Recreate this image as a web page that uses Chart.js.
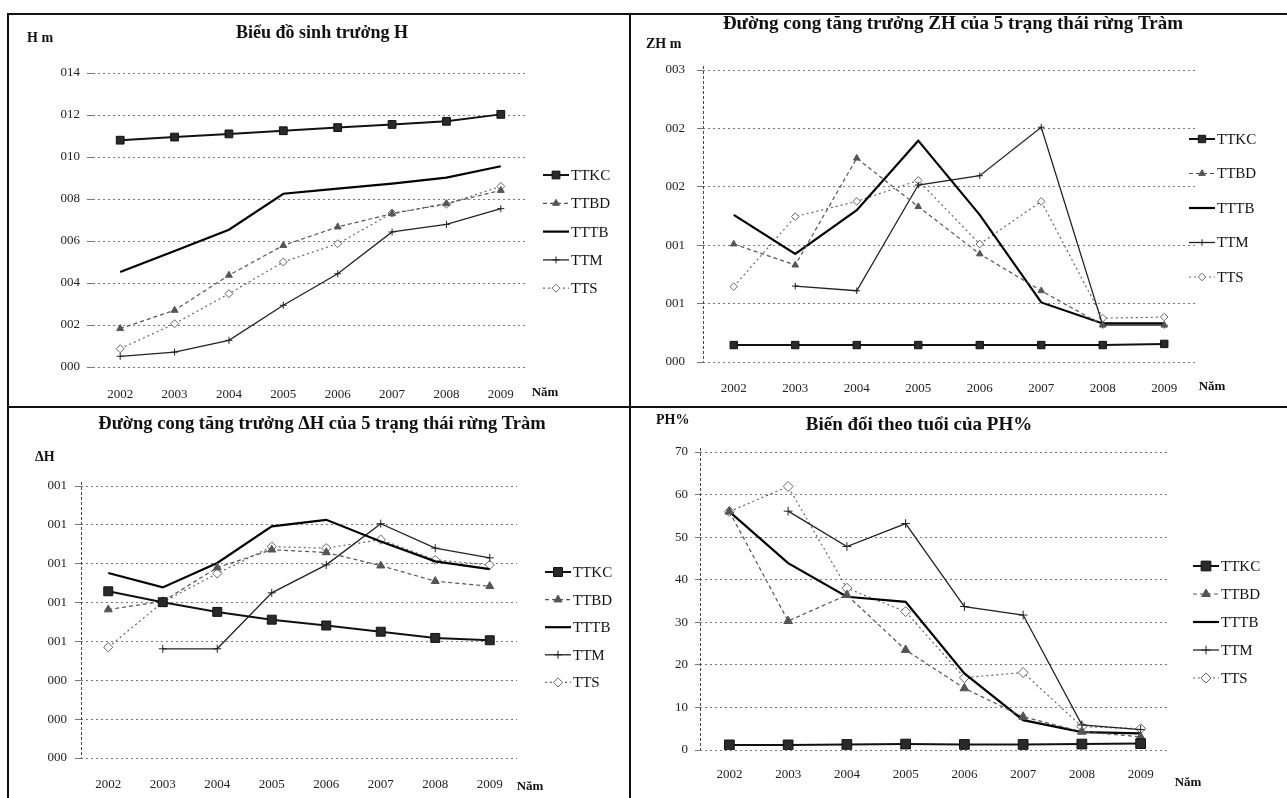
<!DOCTYPE html>
<html>
<head>
<meta charset="utf-8">
<script src="https://cdn.jsdelivr.net/npm/chart.js@4.4.1/dist/chart.umd.min.js"></script>
<style>
  html, body { margin: 0; padding: 0; background: #fff; }
  body { width: 1287px; height: 798px; position: relative; overflow: hidden; }
  .cell { position: absolute; box-sizing: border-box; border-left: 2px solid #111; border-top: 2px solid #111; }
  canvas { position: absolute; }
</style>
</head>
<body>
<div class="cell" style="left:7px;top:13px;width:622px;height:393px"></div>
<div class="cell" style="left:629px;top:13px;width:658px;height:393px"></div>
<div class="cell" style="left:7px;top:406px;width:622px;height:392px"></div>
<div class="cell" style="left:629px;top:406px;width:658px;height:392px"></div>

<canvas id="chartH" width="620" height="391" style="left:9px;top:15px"></canvas>
<canvas id="chartZH" width="656" height="391" style="left:631px;top:15px"></canvas>
<canvas id="chartDH" width="620" height="390" style="left:9px;top:408px"></canvas>
<canvas id="chartPH" width="656" height="390" style="left:631px;top:408px"></canvas>

<script>
// categories and series names
const years = ["2002", "2003", "2004", "2005", "2006", "2007", "2008", "2009"];
const names = ["TTKC", "TTBD", "TTTB", "TTM", "TTS"];

// Biểu đồ sinh trưởng H
const hTicks = ["000", "002", "004", "006", "008", "010", "012", "014"];
const hTTKC = [10.8, 10.95, 11.1, 11.25, 11.4, 11.55, 11.7, 12.03];
const hTTBD = [1.83, 2.7, 4.37, 5.79, 6.67, 7.3, 7.78, 8.41];
const hTTTB = [4.52, 5.52, 6.54, 8.25, 8.49, 8.73, 9.02, 9.56];
const hTTM = [0.51, 0.71, 1.27, 2.94, 4.44, 6.43, 6.79, 7.54];
const hTTS = [0.87, 2.06, 3.49, 5.0, 5.87, 7.33, 7.75, 8.6];

// Đường cong tăng trưởng ZH
const zhTicks = ["000", "001", "001", "002", "002", "003"];
const zhTTKC = [0.29, 0.29, 0.29, 0.29, 0.29, 0.29, 0.29, 0.31];
const zhTTBD = [2.02, 1.66, 3.49, 2.66, 1.85, 1.22, 0.63, 0.63];
const zhTTTB = [2.52, 1.85, 2.6, 3.79, 2.52, 1.02, 0.66, 0.66];
const zhTTM = [null, 1.3, 1.22, 3.03, 3.19, 4.02, 0.63, 0.63];
const zhTTS = [1.29, 2.49, 2.75, 3.11, 2.02, 2.75, 0.75, 0.77];

// Đường cong tăng trưởng ΔH
const dhTicks = ["000", "000", "000", "001", "001", "001", "001", "001"];
const dhTTKC = [4.29, 4.01, 3.76, 3.56, 3.41, 3.25, 3.09, 3.03];
const dhTTBD = [3.82, 4.03, 4.9, 5.36, 5.29, 4.95, 4.55, 4.42];
const dhTTTB = [4.76, 4.39, 5.02, 5.96, 6.13, 5.57, 5.06, 4.86];
const dhTTM = [null, 2.81, 2.81, 4.25, 4.97, 6.03, 5.4, 5.15];
const dhTTS = [2.85, 4.01, 4.75, 5.44, 5.4, 5.62, 5.1, 4.97];

// Biến đổi theo tuổi của PH%
const phTicks = ["0", "10", "20", "30", "40", "50", "60", "70"];
const phTTKC = [1.2, 1.2, 1.3, 1.4, 1.3, 1.3, 1.4, 1.5];
const phTTBD = [56, 30.3, 36.4, 23.5, 14.5, 7.8, 4.3, 3.1];
const phTTTB = [56, 43.9, 36, 34.8, 18, 7, 4.2, 3.9];
const phTTM = [null, 56.1, 47.8, 53.2, 33.7, 31.7, 5.9, 4.8];
const phTTS = [56, 61.9, 38, 32.5, 17, 18.2, 5.5, 5];

const SERIF = '"Liberation Serif", "DejaVu Serif", serif';

// how each series looks, same order as names
const looks = [
    { color: "#111", width: 2, dash: [], point: "rect", r: 5.5, fill: "#2a2a2a" },
    { color: "#555", width: 1.2, dash: [4, 3], point: "triangle", r: 4, fill: "#555" },
    { color: "#000", width: 2.2, dash: [], point: false, r: 0, fill: "#000" },
    { color: "#222", width: 1.3, dash: [], point: "cross", r: 3.5, fill: "#222" },
    { color: "#666", width: 1.2, dash: [2, 3], point: "rectRot", r: 4, fill: "#fff" }
];

// marker for the legend samples
function drawMarker(ctx, kind, x, y, r, fill, stroke) {
    ctx.save();
    ctx.setLineDash([]);
    ctx.fillStyle = fill;
    ctx.strokeStyle = stroke;
    ctx.lineWidth = 1;
    ctx.beginPath();
    if (kind === "rect") {
        const s = r * Math.SQRT1_2;
        ctx.rect(x - s, y - s, 2 * s, 2 * s);
        ctx.fill(); ctx.stroke();
    } else if (kind === "triangle") {
        ctx.moveTo(x, y - r);
        ctx.lineTo(x + r * 0.87, y + r * 0.5);
        ctx.lineTo(x - r * 0.87, y + r * 0.5);
        ctx.closePath();
        ctx.fill(); ctx.stroke();
    } else if (kind === "cross") {
        ctx.moveTo(x - r, y); ctx.lineTo(x + r, y);
        ctx.moveTo(x, y - r); ctx.lineTo(x, y + r);
        ctx.stroke();
    } else if (kind === "rectRot") {
        ctx.moveTo(x, y - r); ctx.lineTo(x + r, y);
        ctx.lineTo(x, y + r); ctx.lineTo(x - r, y);
        ctx.closePath();
        ctx.fill(); ctx.stroke();
    }
    ctx.restore();
}

// titles, axis names, dashed y axis and legend
const decor = {
    id: "decor",
    beforeDatasetsDraw(chart, args, o) {
        if (!o.axisLine) return;
        const ctx = chart.ctx, a = chart.chartArea;
        ctx.save();
        ctx.strokeStyle = "#444";
        ctx.lineWidth = 1;
        ctx.setLineDash([3, 2]);
        ctx.beginPath();
        ctx.moveTo(a.left + 0.5, a.top - 4);
        ctx.lineTo(a.left + 0.5, a.bottom);
        ctx.stroke();
        ctx.restore();
    },
    afterDraw(chart, args, o) {
        const ctx = chart.ctx;
        const ox = o.ox, oy = o.oy;
        ctx.save();
        ctx.fillStyle = "#111";
        ctx.textBaseline = "middle";

        ctx.textAlign = "center";
        ctx.font = "bold " + o.titleSize + "px " + SERIF;
        ctx.fillText(o.title, o.titleX - ox, o.titleY - oy);

        ctx.textAlign = "left";
        ctx.font = "bold 14px " + SERIF;
        ctx.fillText(o.yTitle, o.yTitleX - ox, o.yTitleY - oy);

        ctx.textAlign = "center";
        ctx.font = "bold 13px " + SERIF;
        ctx.fillText("Năm", o.xTitleX - ox, o.xTitleY - oy);

        // legend
        ctx.font = "15px " + SERIF;
        ctx.textAlign = "left";
        chart.data.datasets.forEach((ds, i) => {
            const lk = looks[i];
            const y = o.legY - oy + i * o.legDy;
            const x0 = o.legX - ox;
            ctx.save();
            ctx.strokeStyle = lk.color;
            ctx.lineWidth = lk.width;
            ctx.setLineDash(lk.dash);
            ctx.beginPath();
            ctx.moveTo(x0, y);
            ctx.lineTo(x0 + 26, y);
            ctx.stroke();
            ctx.restore();
            if (lk.point) {
                drawMarker(ctx, lk.point, x0 + 13, y, lk.r * o.mark, lk.fill, lk.color);
            }
            ctx.fillStyle = "#111";
            ctx.fillText(ds.label, x0 + 28, y + 1);
        });
        ctx.restore();
    }
};

function makePanel(id, p, series, ticks) {
    const yW = 40, xH = 36;
    const datasets = series.map((vals, i) => {
        const lk = looks[i];
        return {
            label: names[i],
            data: vals,
            borderColor: lk.color,
            borderWidth: lk.width,
            borderDash: lk.dash,
            pointStyle: lk.point,
            pointRadius: lk.point ? lk.r * p.mark : 0,
            pointBackgroundColor: lk.fill,
            pointBorderColor: lk.color,
            pointBorderWidth: 1,
            tension: 0,
            fill: false
        };
    });
    return new Chart(document.getElementById(id), {
        type: "line",
        data: { labels: years, datasets: datasets },
        options: {
            responsive: false,
            animation: false,
            events: [],
            layout: {
                padding: {
                    left: p.area.l - p.ox - yW,
                    right: p.ox + p.w - p.area.r,
                    top: p.area.t - p.oy,
                    bottom: p.oy + p.h - p.area.b - xH
                }
            },
            scales: {
                x: {
                    type: "category",
                    offset: true,
                    grid: { display: false },
                    border: { display: false },
                    ticks: { color: "#222", font: { family: SERIF, size: 13 }, padding: p.xPad, maxRotation: 0 },
                    afterFit: (s) => { s.height = xH; }
                },
                y: {
                    min: 0,
                    max: p.yMax,
                    grid: { color: "#777", lineWidth: 1, tickLength: p.tickLen, drawTicks: true },
                    border: { display: false, dash: [2, 3] },
                    ticks: {
                        stepSize: p.yStep,
                        padding: p.tickPad,
                        color: "#222",
                        font: { family: SERIF, size: 13 },
                        callback: (v, i) => ticks[i]
                    },
                    afterFit: (s) => { s.width = yW; }
                }
            },
            plugins: {
                legend: { display: false },
                title: { display: false },
                tooltip: { enabled: false },
                decor: p
            }
        },
        plugins: [decor]
    });
}

makePanel("chartH", {
    ox: 9, oy: 15, w: 620, h: 391,
    area: { l: 93, r: 528, t: 73, b: 367 },
    yMax: 14, yStep: 2, tickLen: 6, tickPad: 7, xPad: 12, mark: 1, axisLine: false,
    title: "Biểu đồ sinh trưởng H", titleSize: 18, titleX: 322, titleY: 33,
    yTitle: "H m", yTitleX: 27, yTitleY: 38,
    xTitleX: 545, xTitleY: 393,
    legX: 543, legY: 175, legDy: 28.3
}, [hTTKC, hTTBD, hTTTB, hTTM, hTTS], hTicks);

makePanel("chartZH", {
    ox: 631, oy: 15, w: 656, h: 391,
    area: { l: 703, r: 1195, t: 70, b: 362 },
    yMax: 5, yStep: 1, tickLen: 6, tickPad: 12, xPad: 11, mark: 0.95, axisLine: true,
    title: "Đường cong tăng trưởng ZH của 5 trạng thái rừng Tràm", titleSize: 19, titleX: 953, titleY: 24,
    yTitle: "ZH m", yTitleX: 646, yTitleY: 44,
    xTitleX: 1212, xTitleY: 387,
    legX: 1189, legY: 139, legDy: 34.5
}, [zhTTKC, zhTTBD, zhTTTB, zhTTM, zhTTS], zhTicks);

makePanel("chartDH", {
    ox: 9, oy: 408, w: 620, h: 390,
    area: { l: 81, r: 517, t: 486, b: 758 },
    yMax: 7, yStep: 1, tickLen: 6, tickPad: 8, xPad: 11, mark: 1.15, axisLine: true,
    title: "Đường cong tăng trưởng ΔH của 5 trạng thái rừng Tràm", titleSize: 18.5, titleX: 322, titleY: 424,
    yTitle: "ΔH", yTitleX: 35, yTitleY: 457,
    xTitleX: 530, xTitleY: 787,
    legX: 545, legY: 572, legDy: 27.6
}, [dhTTKC, dhTTBD, dhTTTB, dhTTM, dhTTS], dhTicks);

makePanel("chartPH", {
    ox: 631, oy: 408, w: 656, h: 390,
    area: { l: 700, r: 1170, t: 452, b: 750 },
    yMax: 70, yStep: 10, tickLen: 5, tickPad: 7, xPad: 9, mark: 1.25, axisLine: true,
    title: "Biến đổi theo tuổi của PH%", titleSize: 19, titleX: 919, titleY: 425,
    yTitle: "PH%", yTitleX: 656, yTitleY: 420,
    xTitleX: 1188, xTitleY: 783,
    legX: 1193, legY: 566, legDy: 28
}, [phTTKC, phTTBD, phTTTB, phTTM, phTTS], phTicks);
</script>
</body>
</html>
